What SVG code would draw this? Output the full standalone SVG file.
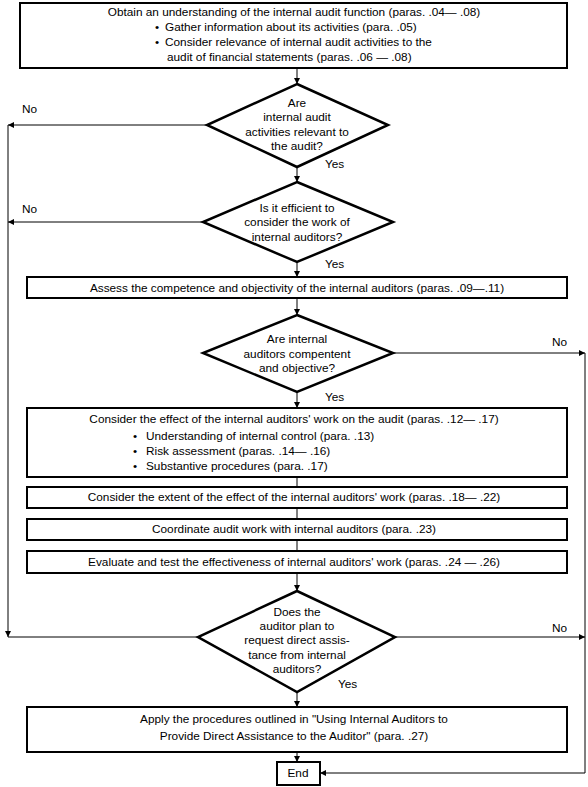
<svg xmlns="http://www.w3.org/2000/svg" width="588" height="787" viewBox="0 0 588 787">
<defs>
<marker id="ah" viewBox="0 0 10 10" refX="10" refY="5" markerWidth="6" markerHeight="6" markerUnits="userSpaceOnUse" orient="auto"><path d="M0,0 L10,5 L0,10 z" fill="#000"/></marker>
<style>
text{font-family:"Liberation Sans",Arial,sans-serif;font-size:11.8px;fill:#000}
.c{text-anchor:middle}
.box{fill:#fff;stroke:#000;stroke-width:2}
.dia{fill:#fff;stroke:#000;stroke-width:2.5}
.ln{fill:none;stroke:#000;stroke-width:1}
.ar{fill:none;stroke:#000;stroke-width:1;marker-end:url(#ah)}
</style>
</defs>
<rect width="588" height="787" fill="#fff"/>
<g id="connectors">
<path class="ar" d="M297,68 V84"/>
<path class="ar" d="M297,167 V182"/>
<path class="ar" d="M297,262 V277"/>
<path class="ar" d="M297,298 V315"/>
<path class="ar" d="M297,392 V408"/>
<path class="ln" d="M297,477 V487"/>
<path class="ln" d="M297,508 V519"/>
<path class="ln" d="M297,540 V551"/>
<path class="ar" d="M297,573 V591"/>
<path class="ar" d="M297,692 V707"/>
<path class="ar" d="M297,752 V762"/>
<path class="ar" d="M207,125 H8"/>
<path class="ar" d="M203,222 H8"/>
<path class="ar" d="M8,125 V637"/>
<path class="ln" d="M8,637 H198"/>
<path class="ar" d="M393,353 H585"/>
<path class="ar" d="M395,637 H585"/>
<path class="ln" d="M585,353 V773"/>
<path class="ar" d="M585,773 H320"/>
<text x="22" y="113">No</text>
<text x="22" y="213">No</text>
<text x="552" y="346">No</text>
<text x="552" y="632">No</text>
<text x="325" y="168">Yes</text>
<text x="325" y="268">Yes</text>
<text x="325" y="401">Yes</text>
<text x="338" y="688">Yes</text>
</g>
<g id="n1">
<rect class="box" x="20" y="3" width="547" height="65"/>
<text class="c" x="294" y="16">Obtain an understanding of the internal audit function (paras. .04— .08)</text>
<text x="155" y="31">•</text><text x="165" y="31">Gather information about its activities (para. .05)</text>
<text x="155" y="46">•</text><text x="165" y="46">Consider relevance of internal audit activities to the</text>
<text x="167" y="61">audit of financial statements (paras. .06 — .08)</text>
</g>
<g id="d1">
<polygon class="dia" points="297,84 388,125 297,167 207,125"/>
<text class="c" x="297" y="107">Are</text>
<text class="c" x="297" y="121">internal audit</text>
<text class="c" x="297" y="136">activities relevant to</text>
<text class="c" x="297" y="150">the audit?</text>
</g>
<g id="d2">
<polygon class="dia" points="297,182 393,222 297,262 203,222"/>
<text class="c" x="297" y="212">Is it efficient to</text>
<text class="c" x="297" y="226">consider the work of</text>
<text class="c" x="297" y="241">internal auditors?</text>
</g>
<g id="n2">
<rect class="box" x="27" y="277" width="540" height="21"/>
<text class="c" x="297" y="292">Assess the competence and objectivity of the internal auditors (paras. .09—.11)</text>
</g>
<g id="d3">
<polygon class="dia" points="297,315 393,353 297,392 203,353"/>
<text class="c" x="297" y="343">Are internal</text>
<text class="c" x="297" y="358">auditors compentent</text>
<text class="c" x="297" y="372">and objective?</text>
</g>
<g id="n3">
<rect class="box" x="27" y="408" width="540" height="69"/>
<text class="c" x="294" y="423">Consider the effect of the internal auditors' work on the audit (paras. .12— .17)</text>
<text x="133" y="440">•</text><text x="146" y="440">Understanding of internal control (para. .13)</text>
<text x="133" y="455">•</text><text x="146" y="455">Risk assessment (paras. .14— .16)</text>
<text x="133" y="470">•</text><text x="146" y="470">Substantive procedures (para. .17)</text>
</g>
<g id="n4">
<rect class="box" x="27" y="487" width="540" height="21"/>
<text class="c" x="294" y="501">Consider the extent of the effect of the internal auditors' work (paras. .18— .22)</text>
</g>
<g id="n5">
<rect class="box" x="27" y="519" width="540" height="21"/>
<text class="c" x="294" y="533">Coordinate audit work with internal auditors (para. .23)</text>
</g>
<g id="n6">
<rect class="box" x="27" y="551" width="540" height="22"/>
<text class="c" x="294" y="566">Evaluate and test the effectiveness of internal auditors' work (paras. .24 — .26)</text>
</g>
<g id="d4">
<polygon class="dia" points="297,591 395,637 297,692 198,637"/>
<text class="c" x="297" y="616">Does the</text>
<text class="c" x="297" y="630">auditor plan to</text>
<text class="c" x="297" y="644">request direct assis-</text>
<text class="c" x="297" y="659">tance from internal</text>
<text class="c" x="297" y="673">auditors?</text>
</g>
<g id="n7">
<rect class="box" x="27" y="707" width="540" height="45"/>
<text class="c" x="294" y="723">Apply the procedures outlined in "Using Internal Auditors to</text>
<text class="c" x="294" y="740">Provide Direct Assistance to the Auditor" (para. .27)</text>
</g>
<g id="end">
<rect class="box" x="277" y="762" width="43" height="23"/>
<text class="c" x="298" y="777">End</text>
</g>
</svg>
